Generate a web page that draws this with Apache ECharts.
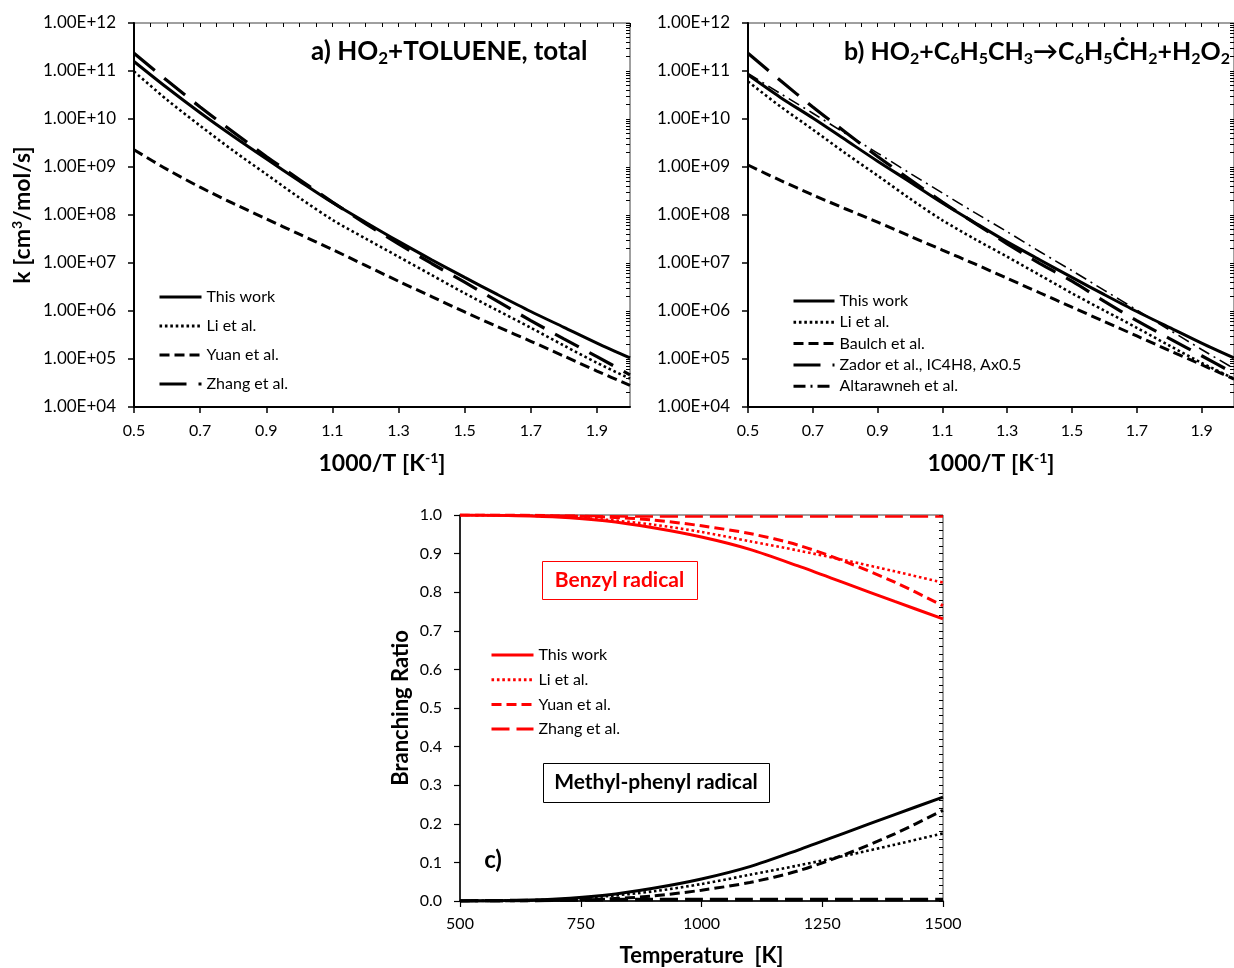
<!DOCTYPE html>
<html><head><meta charset="utf-8">
<script src="https://cdn.jsdelivr.net/npm/echarts@6/dist/echarts.min.js"></script>
<style>html,body{margin:0;padding:0;background:#fff}#c{width:1234px;height:968px}</style>
</head><body><div id="c"></div>
<script>
// ---------- data: panels a) and b) ----------
const invT = [0.5,0.6,0.7,0.8,0.9,1.0,1.1,1.2,1.3,1.4,1.5,1.6,1.7,1.8,1.9,2.0];
// a) HO2 + toluene, total
const aThisWork = [1.58e11,4.47e10,1.35e10,4.37e9,1.48e9,5.13e8,1.82e8,7.08e7,2.82e7,1.17e7,5.01e6,2.19e6,9.77e5,4.57e5,2.14e5,1.05e5];
const aLi       = [9.77e10,2.51e10,7.24e9,2.19e9,7.08e8,2.29e8,7.94e7,3.24e7,1.35e7,5.62e6,2.34e6,1.02e6,4.47e5,1.91e5,8.32e4,3.89e4];
const aYuan     = [2.29e9,8.91e8,3.80e8,1.74e8,8.32e7,3.98e7,1.91e7,8.91e6,4.17e6,2.00e6,9.55e5,4.68e5,2.34e5,1.15e5,5.62e4,2.82e4];
const aZhang    = [2.34e11,6.31e10,1.78e10,5.37e9,1.66e9,5.50e8,1.86e8,6.61e7,2.51e7,9.77e6,3.98e6,1.58e6,6.31e5,2.63e5,1.12e5,4.68e4];
// b) benzyl channel
const bThisWork = [8.32e10,2.82e10,1.05e10,3.72e9,1.32e9,4.90e8,1.78e8,6.92e7,2.75e7,1.17e7,5.01e6,2.19e6,9.77e5,4.57e5,2.14e5,1.05e5];
const bLi       = [6.03e10,1.82e10,6.03e9,1.95e9,6.61e8,2.19e8,7.76e7,3.16e7,1.35e7,5.62e6,2.34e6,1.02e6,4.47e5,1.91e5,8.32e4,3.89e4];
const bBaulch   = [1.10e9,5.25e8,2.63e8,1.35e8,7.08e7,3.63e7,1.86e7,9.55e6,4.79e6,2.40e6,1.20e6,6.03e5,3.02e5,1.51e5,7.59e4,3.80e4];
const bZador    = [2.34e11,6.31e10,1.78e10,5.37e9,1.66e9,5.50e8,1.86e8,6.76e7,2.51e7,9.77e6,4.17e6,1.58e6,6.31e5,2.69e5,1.17e5,5.01e4];
const bAltarawneh=[8.91e10,3.39e10,1.32e10,5.01e9,1.95e9,7.41e8,2.88e8,1.12e8,4.47e7,1.74e7,6.92e6,2.69e6,1.05e6,4.07e5,1.58e5,6.31e4];
// ---------- data: panel c) ----------
const temps = [500,600,700,800,900,1000,1100,1200,1300,1400,1500];
const benzylThisWork = [1.000,0.999,0.995,0.985,0.967,0.943,0.911,0.868,0.822,0.776,0.731];
const benzylLi       = [1.000,0.999,0.996,0.988,0.975,0.956,0.932,0.908,0.882,0.854,0.825];
const benzylYuan     = [1.000,1.000,0.998,0.995,0.987,0.972,0.952,0.922,0.878,0.826,0.765];
const benzylZhang    = [1.000,0.999,0.998,0.997,0.996,0.996,0.996,0.996,0.996,0.996,0.996];
const mphThisWork    = [0.000,0.001,0.005,0.015,0.033,0.057,0.089,0.132,0.178,0.224,0.269];
const mphLi          = [0.000,0.001,0.004,0.012,0.025,0.044,0.068,0.092,0.118,0.146,0.175];
const mphYuan        = [0.000,0.000,0.002,0.005,0.013,0.028,0.048,0.078,0.122,0.174,0.235];
const mphZhang       = [0.000,0.001,0.002,0.003,0.004,0.004,0.004,0.004,0.004,0.004,0.004];
// ---------- ticks / labels ----------
const kTickValues = [1e4,1e5,1e6,1e7,1e8,1e9,1e10,1e11,1e12];
const kTickLabels = ['1.00E+04','1.00E+05','1.00E+06','1.00E+07','1.00E+08','1.00E+09','1.00E+10','1.00E+11','1.00E+12'];
const invTTickValues = [0.5,0.7,0.9,1.1,1.3,1.5,1.7,1.9];
const invTTickLabels = ['0.5','0.7','0.9','1.1','1.3','1.5','1.7','1.9'];
const invTMinorValues = [0.5,0.55,0.6,0.65,0.7,0.75,0.8,0.85,0.9,0.95,1.0,1.05,1.1,1.15,1.2,1.25,1.3,1.35,1.4,1.45,1.5,1.55,1.6,1.65,1.7,1.75,1.8,1.85,1.9,1.95,2.0];
const ratioTickLabels = ['0.0','0.1','0.2','0.3','0.4','0.5','0.6','0.7','0.8','0.9','1.0'];
const tempTickLabels = {500:'500',750:'750',1000:'1000',1250:'1250',1500:'1500'};

const kMinorValues = [];
for (let e = 4; e < 12; e++) for (let m = 1; m <= 9; m++) kMinorValues.push(m * Math.pow(10, e));
kMinorValues.push(1e12);

const FONT = 'Lato';
const pairs = (xs, ys) => xs.map((x, i) => [x, ys[i]]);

function kAxisMain(gi) {
  return {
    type: 'log', logBase: 10, gridIndex: gi, min: 1e4, max: 1e12,
    axisLine: {show: true, lineStyle: {color: '#000', width: 2}},
    axisTick: {show: true, inside: false, length: 6, customValues: kTickValues, lineStyle: {color: '#000', width: 1.5}},
    axisLabel: {customValues: kTickValues, color: '#000', fontSize: 17, fontFamily: FONT, margin: 18,
      formatter: v => kTickLabels[Math.round(Math.log10(v)) - 4]},
    splitLine: {show: false},
    name: 'k [cm{sup|3}/mol/s]', nameLocation: 'middle', nameGap: gi === 0 ? 98 : 0,
    nameTextStyle: {color: '#000', fontSize: 23, fontWeight: 'bold', fontFamily: FONT, lineHeight: 26,
      rich: {sup: {fontSize: 14, fontWeight: 'bold', fontFamily: FONT, verticalAlign: 'top', lineHeight: 12, color: '#000'}}}
  };
}
function kAxisMinor(gi) {
  return {
    type: 'log', logBase: 10, gridIndex: gi, min: 1e4, max: 1e12,
    axisLine: {show: false}, axisLabel: {show: false}, splitLine: {show: false},
    axisTick: {show: true, inside: true, length: 4, customValues: kMinorValues, lineStyle: {color: '#000', width: 1}}
  };
}
function invTAxisMain(gi) {
  return {
    type: 'value', gridIndex: gi, min: 0.5, max: 2.0,
    axisLine: {show: true, onZero: false, lineStyle: {color: '#000', width: 2}},
    axisTick: {show: true, inside: false, length: 6, customValues: invTTickValues, lineStyle: {color: '#000', width: 1.5}},
    axisLabel: {customValues: invTTickValues, color: '#000', fontSize: 16, fontFamily: FONT, margin: 16,
      formatter: v => invTTickLabels[Math.round((v - 0.5) / 0.2)]},
    splitLine: {show: false},
    name: '1000/T [K{sup|-1}]', nameLocation: 'middle', nameGap: 44,
    nameTextStyle: {color: '#000', fontSize: 23, fontWeight: 'bold', fontFamily: FONT, lineHeight: 26,
      rich: {sup: {fontSize: 14, fontWeight: 'bold', fontFamily: FONT, verticalAlign: 'top', lineHeight: 12, color: '#000'}}}
  };
}
function invTAxisMinor(gi) {
  return {
    type: 'value', gridIndex: gi, min: 0.5, max: 2.0,
    axisLine: {show: false, onZero: false}, axisLabel: {show: false}, splitLine: {show: false},
    axisTick: {show: true, inside: true, length: 4, customValues: invTMinorValues, lineStyle: {color: '#000', width: 1}}
  };
}

const SOLID = 'solid', DOT = [2.6, 2.8], DASH = [10, 5], LONG = [27, 12], DASHDOT = [12, 5, 2, 5];
function line(name, xi, yi, xs, ys, type, width, color) {
  return {
    name, type: 'line', xAxisIndex: xi, yAxisIndex: yi, data: pairs(xs, ys),
    symbol: 'none', showSymbol: false, smooth: 0.3, silent: true, z: 3,
    lineStyle: {color, width, type, cap: 'butt'}, itemStyle: {color}
  };
}

const legendText = {color: '#000', fontSize: 16, fontFamily: FONT, lineHeight: 16};
const legendItem = {color: 'rgba(0,0,0,0)', borderColor: 'rgba(0,0,0,0)', borderWidth: 0, opacity: 0};
const legendLine = {width: 3};
const strip = n => n.slice(n.indexOf('|') + 1);

const option = {
  backgroundColor: '#fff',
  animation: false,
  title: [
    {left: 311, top: 37, padding: 0,
     text: 'a) HO{sub|2}+TOLUENE, total',
     textStyle: {color: '#000', fontSize: 26, fontWeight: 'bold', fontFamily: FONT, lineHeight: 30,
       rich: {sub: {fontSize: 17, fontWeight: 'bold', fontFamily: FONT, verticalAlign: 'bottom', lineHeight: 14, color: '#000'}}}},
    {left: 844, top: 37, padding: 0,
     text: 'b) HO{sub|2}+C{sub|6}H{sub|5}CH{sub|3}→C{sub|6}H{sub|5}ĊH{sub|2}+H{sub|2}O{sub|2}',
     textStyle: {color: '#000', fontSize: 25, fontWeight: 'bold', fontFamily: FONT, lineHeight: 30,
       rich: {sub: {fontSize: 16, fontWeight: 'bold', fontFamily: FONT, verticalAlign: 'bottom', lineHeight: 14, color: '#000'}}}}
  ],
  grid: [
    {left: 134, top: 23, width: 496, height: 384, show: true, borderColor: '#404040', borderWidth: 1, backgroundColor: 'transparent'},
    {left: 748, top: 23, width: 496, height: 384, show: true, borderColor: '#404040', borderWidth: 1, backgroundColor: 'transparent'},
    {left: 460, top: 515, width: 483, height: 386, show: true, borderColor: '#404040', borderWidth: 1, backgroundColor: 'transparent'}
  ],
  xAxis: [
    invTAxisMain(0), invTAxisMinor(0), invTAxisMain(1), invTAxisMinor(1),
    {type: 'value', gridIndex: 2, min: 500, max: 1500, interval: 250,
     axisLine: {show: true, onZero: false, lineStyle: {color: '#000', width: 1.5}},
     axisTick: {show: true, inside: false, length: 6, lineStyle: {color: '#000', width: 1.2}},
     axisLabel: {color: '#000', fontSize: 16, fontFamily: FONT, margin: 15, formatter: v => tempTickLabels[v]},
     splitLine: {show: false},
     name: 'Temperature  [K]', nameLocation: 'middle', nameGap: 44,
     nameTextStyle: {color: '#000', fontSize: 22, fontWeight: 'bold', fontFamily: FONT}}
  ],
  yAxis: [
    kAxisMain(0), kAxisMinor(0),
    Object.assign(kAxisMain(1), {name: ''}), kAxisMinor(1),
    {type: 'value', gridIndex: 2, min: 0, max: 1, interval: 0.1,
     axisLine: {show: true, lineStyle: {color: '#000', width: 1.5}},
     axisTick: {show: true, inside: false, length: 6, lineStyle: {color: '#000', width: 1.2}},
     axisLabel: {color: '#000', fontSize: 16, fontFamily: FONT, margin: 18, formatter: v => ratioTickLabels[Math.round(v * 10)]},
     splitLine: {show: false},
     name: 'Branching Ratio', nameLocation: 'middle', nameGap: 48,
     nameTextStyle: {color: '#000', fontSize: 22, fontWeight: 'bold', fontFamily: FONT}},
    {type: 'value', gridIndex: 2, min: 0, max: 1, interval: 0.1,
     axisLine: {show: false}, axisLabel: {show: false}, splitLine: {show: false},
     axisTick: {show: true, inside: true, length: 4, lineStyle: {color: '#000', width: 1}},
     minorTick: {show: true, splitNumber: 5, length: 4, lineStyle: {color: '#000', width: 1}}}
  ],
  legend: [
    {data: ['a|This work', 'a|Li et al.', 'a|Yuan et al.', 'a|Zhang et al.'], formatter: strip,
     orient: 'vertical', left: 158, top: 289, itemWidth: 42, itemHeight: 14, itemGap: 13, padding: 0, itemTextGap: 5,
     selectedMode: false, textStyle: legendText, itemStyle: legendItem, lineStyle: legendLine},
    {data: ['b|This work', 'b|Li et al.', 'b|Baulch et al.', 'b|Zador et al., IC4H8, Ax0.5', 'b|Altarawneh et al.'], formatter: strip,
     orient: 'vertical', left: 792, top: 293, itemWidth: 41, itemHeight: 14, itemGap: 5.3, padding: 0, itemTextGap: 4,
     selectedMode: false, textStyle: legendText, itemStyle: legendItem, lineStyle: legendLine},
    {data: ['c|This work', 'c|Li et al.', 'c|Yuan et al.', 'c|Zhang et al.'], formatter: strip,
     orient: 'vertical', left: 490, top: 647, itemWidth: 42, itemHeight: 14, itemGap: 8.7, padding: 0, itemTextGap: 4,
     selectedMode: false, textStyle: legendText, itemStyle: legendItem, lineStyle: legendLine}
  ],
  graphic: [
    {type: 'rect', left: 542, top: 561, shape: {width: 155, height: 38}, style: {fill: '#fff', stroke: '#ff0000', lineWidth: 1}, z: 10},
    {type: 'text', x: 619.5, y: 580, style: {text: 'Benzyl radical', fill: '#ff0000', font: 'bold 21px Lato', textAlign: 'center', textVerticalAlign: 'middle'}, z: 11},
    {type: 'rect', left: 543, top: 763, shape: {width: 226, height: 39}, style: {fill: '#fff', stroke: '#000', lineWidth: 1}, z: 10},
    {type: 'text', x: 656, y: 782.5, style: {text: 'Methyl-phenyl radical', fill: '#000', font: 'bold 21px Lato', textAlign: 'center', textVerticalAlign: 'middle'}, z: 11},
    {type: 'text', x: 493, y: 860, style: {text: 'c)', fill: '#000', font: 'bold 24px Lato', textAlign: 'center', textVerticalAlign: 'middle'}, z: 11}
  ],
  series: [
    line('a|This work', 0, 0, invT, aThisWork, SOLID, 3, '#000'),
    line('a|Li et al.', 0, 0, invT, aLi, DOT, 2.6, '#000'),
    line('a|Yuan et al.', 0, 0, invT, aYuan, DASH, 3, '#000'),
    line('a|Zhang et al.', 0, 0, invT, aZhang, LONG, 3.2, '#000'),
    line('b|This work', 2, 2, invT, bThisWork, SOLID, 3, '#000'),
    line('b|Li et al.', 2, 2, invT, bLi, DOT, 2.6, '#000'),
    line('b|Baulch et al.', 2, 2, invT, bBaulch, DASH, 3, '#000'),
    line('b|Zador et al., IC4H8, Ax0.5', 2, 2, invT, bZador, LONG, 3.2, '#000'),
    line('b|Altarawneh et al.', 2, 2, invT, bAltarawneh, DASHDOT, 1.6, '#000'),
    line('c|This work', 4, 4, temps, benzylThisWork, SOLID, 3, '#ff0000'),
    line('c|Li et al.', 4, 4, temps, benzylLi, DOT, 2.6, '#ff0000'),
    line('c|Yuan et al.', 4, 4, temps, benzylYuan, DASH, 3, '#ff0000'),
    line('c|Zhang et al.', 4, 4, temps, benzylZhang, [18, 7], 2.5, '#ff0000'),
    line('c2|This work', 4, 4, temps, mphThisWork, SOLID, 3, '#000'),
    line('c2|Li et al.', 4, 4, temps, mphLi, DOT, 2.6, '#000'),
    line('c2|Yuan et al.', 4, 4, temps, mphYuan, DASH, 3, '#000'),
    line('c2|Zhang et al.', 4, 4, temps, mphZhang, [18, 7], 3.5, '#000')
  ]
};
const chart = echarts.init(document.getElementById('c'), null, {renderer: 'canvas'});
chart.setOption(option);
</script>
</body></html>
